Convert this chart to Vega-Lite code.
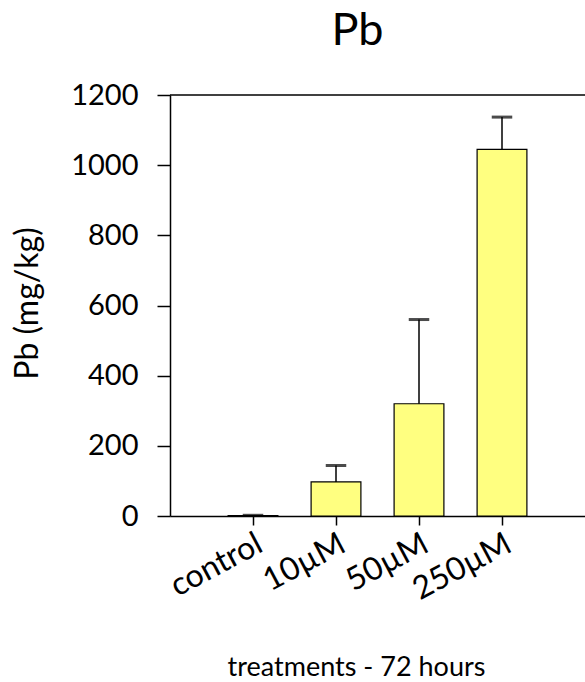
{
  "$schema": "https://vega.github.io/schema/vega-lite/v6.json",
  "width": 415,
  "height": 421,
  "autosize": "none",
  "padding": {"left": 170, "top": 95, "right": 0, "bottom": 166},
  "background": "white",
  "config": {
    "view": {"stroke": null},
    "font": "Lato",
    "axis": {"labelFont": "Lato", "titleFont": "Lato", "labelColor": "black", "titleColor": "black", "domainColor": "black", "tickColor": "black", "grid": false, "titleFontWeight": "normal"}
  },
  "title": {"text": "Pb", "fontSize": 45, "font": "Lato", "fontWeight": "normal", "color": "black", "anchor": "middle", "dx": -20, "offset": 27},
  "data": {
    "values": [
      {"treatment": "control", "mean": 1, "err": 1},
      {"treatment": "10µM", "mean": 97, "err": 47},
      {"treatment": "50µM", "mean": 320, "err": 240},
      {"treatment": "250µM", "mean": 1045, "err": 92}
    ]
  },
  "transform": [{"calculate": "datum.mean + datum.err", "as": "hi"}],
  "layer": [
    {
      "mark": {"type": "bar", "fill": "#FFFF80", "stroke": "black", "strokeWidth": 1.2},
      "encoding": {
        "x": {
          "field": "treatment", "type": "nominal", "sort": null,
          "scale": {"paddingInner": 0.4, "paddingOuter": 0.7},
          "axis": {
            "title": "treatments - 72 hours", "titleFontSize": 27, "titleY": 159, "titleX": 186, "titleBaseline": "alphabetic", "titleAlign": "center", "titleAnchor": null,
            "labelAngle": -28, "labelFontSize": 32, "labelPadding": 3, "tickSize": 9, "domainWidth": 1.5, "tickWidth": 1.5
          }
        },
        "y": {
          "field": "mean", "type": "quantitative",
          "scale": {"domain": [0, 1200], "nice": false},
          "axis": {"title": "Pb (mg/kg)", "titleFontSize": 32, "titleX": -126, "titleY": 208, "titleBaseline": "bottom", "values": [0, 200, 400, 600, 800, 1000, 1200], "format": "d", "labelFontSize": 29, "labelPadding": 19, "tickSize": 13, "domainWidth": 1.5, "tickWidth": 1.5}
        }
      }
    },
    {
      "mark": {"type": "rule", "stroke": "black", "strokeWidth": 1.5},
      "encoding": {
        "x": {"field": "treatment", "type": "nominal", "sort": null},
        "y": {"field": "mean", "type": "quantitative"},
        "y2": {"field": "hi"}
      }
    },
    {
      "mark": {"type": "tick", "stroke": "black", "strokeWidth": 1.5, "size": 19, "thickness": 1.5, "orient": "horizontal"},
      "encoding": {
        "x": {"field": "treatment", "type": "nominal", "sort": null},
        "y": {"field": "hi", "type": "quantitative"}
      }
    },
    {
      "data": {"values": [{"v": 1200}]},
      "transform": [],
      "mark": {"type": "rule", "stroke": "black", "strokeWidth": 1.5},
      "encoding": {"y": {"field": "v", "type": "quantitative"}}
    }
  ]
}
